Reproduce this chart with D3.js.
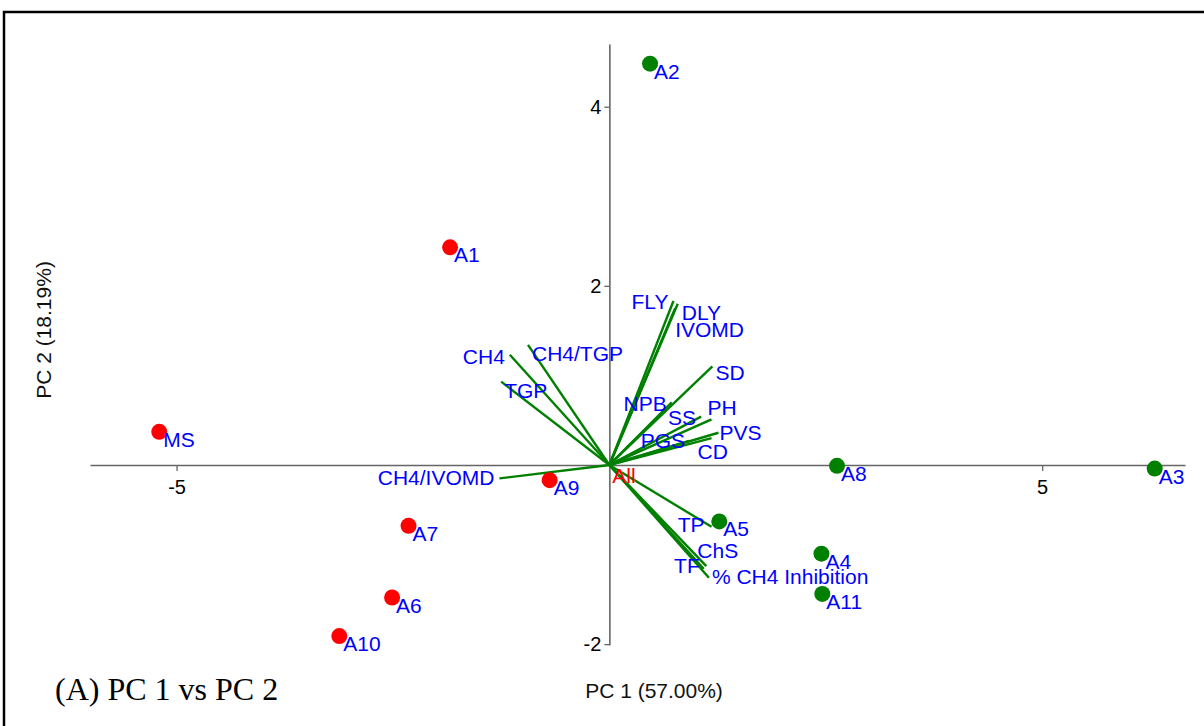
<!DOCTYPE html>
<html>
<head>
<meta charset="utf-8">
<script src="https://cdn.jsdelivr.net/npm/d3@7"></script>
<style>
  body { margin: 0; background: #fff; }
  svg { display: block; }
</style>
</head>
<body>
<div id="chart"></div>
<script>
// scores (PC1, PC2)
const sampleNames = ["A1", "MS", "A9", "A7", "A6", "A10", "A2", "A8", "A3", "A5", "A4", "A11"];
const pc1Scores = [-1.84, -5.20, -0.69, -2.32, -2.51, -3.12, 0.47, 2.63, 6.30, 1.27, 2.45, 2.46];
const pc2Scores = [2.43, 0.37, -0.17, -0.68, -1.48, -1.91, 4.48, -0.01, -0.04, -0.63, -0.99, -1.44];
const sampleGroup = ["red", "red", "red", "red", "red", "red", "green", "green", "green", "green", "green", "green"];

// loadings
const varNames = ["FLY", "DLY", "IVOMD", "SD", "NPB", "SS", "PH", "PVS", "CD", "PGS",
                  "CH4", "CH4/TGP", "TGP", "CH4/IVOMD", "TP", "ChS", "TF", "% CH4 Inhibition"];
const pc1Load = [0.74, 0.79, 0.76, 1.19, 0.72, 1.06, 1.18, 1.26, 1.18, 0.92,
                 -1.15, -0.94, -1.25, -1.27, 1.18, 1.12, 1.09, 1.15];
const pc2Load = [1.83, 1.80, 1.75, 1.10, 0.70, 0.54, 0.51, 0.36, 0.30, 0.27,
                 1.23, 1.34, 0.93, -0.15, -0.69, -1.13, -1.16, -1.26];

const xTicks = [-5, 5];
const yTicks = [-2, 2, 4];

// label placement around arrow tips (pixels): [dx, dy, anchor]
const varLabelNudge = {
  "FLY": [-5, 8, "end"], "DLY": [4, 16, "start"], "IVOMD": [0, 29, "start"],
  "SD": [3, 14, "start"], "NPB": [-5, 9, "end"], "SS": [-5, 8, "end"],
  "PH": [-4, -4, "start"], "PVS": [1, 7, "start"], "CD": [-14, 21, "start"],
  "PGS": [-4, 7, "end"], "CH4": [-5, 9, "end"], "CH4/TGP": [4, 16, "start"],
  "TGP": [3, 16, "start"], "CH4/IVOMD": [-5, 7, "end"], "TP": [-7, 5, "end"],
  "ChS": [-9, -8, "start"], "TF": [-4, 4, "end"], "% CH4 Inhibition": [3, 6, "start"]
};

const W = 1204, H = 726;
const font = "'Liberation Sans', Arial, sans-serif";
const colors = { red: "#ff0000", green: "#008000" };

const svg = d3.select("#chart").append("svg")
  .attr("width", W).attr("height", H);

// outer frame (runs off the right and bottom of the window)
svg.append("rect")
  .attr("x", 4).attr("y", 12)
  .attr("width", 1230).attr("height", 740)
  .attr("fill", "none").attr("stroke", "#000").attr("stroke-width", 2.5);

const x = d3.scaleLinear().domain([-6.0, 6.65]).range([90, 1185]);
const y = d3.scaleLinear().domain([-2.01, 4.70]).range([645, 44]);

const xAxis = svg.append("g")
  .attr("transform", `translate(0,${y(0)})`)
  .call(d3.axisBottom(x).tickValues(xTicks).tickSize(6).tickSizeOuter(0).tickFormat(d => String(d)));
const yAxis = svg.append("g")
  .attr("transform", `translate(${x(0)},0)`)
  .call(d3.axisLeft(y).tickValues(yTicks).tickSize(5).tickSizeOuter(0).tickFormat(d => String(d)));

[xAxis, yAxis].forEach(g => {
  g.select(".domain").attr("stroke", "#666").attr("stroke-width", 1.6);
  g.selectAll(".tick line").attr("stroke", "#666").attr("stroke-width", 1.3);
  g.selectAll(".tick text").attr("fill", "#000").style("font-family", font).style("font-size", "20px");
});
xAxis.selectAll(".tick text").attr("dy", "1.0em");
yAxis.selectAll(".tick text").attr("x", -8);

// axis titles
svg.append("text")
  .attr("x", 654).attr("y", 698)
  .attr("text-anchor", "middle")
  .style("font-family", font).style("font-size", "21px").attr("fill", "#111")
  .text("PC 1 (57.00%)");
svg.append("text")
  .attr("transform", "translate(51,330) rotate(-90)")
  .attr("text-anchor", "middle")
  .style("font-family", font).style("font-size", "21px").attr("fill", "#111")
  .text("PC 2 (18.19%)");

// loading vectors
svg.append("g").selectAll("line")
  .data(varNames)
  .join("line")
  .attr("x1", x(0)).attr("y1", y(0))
  .attr("x2", (d, i) => x(pc1Load[i]))
  .attr("y2", (d, i) => y(pc2Load[i]))
  .attr("stroke", "#008000").attr("stroke-width", 2.4);

svg.append("g").selectAll("text")
  .data(varNames)
  .join("text")
  .attr("x", (d, i) => x(pc1Load[i]) + varLabelNudge[d][0])
  .attr("y", (d, i) => y(pc2Load[i]) + varLabelNudge[d][1])
  .attr("text-anchor", d => varLabelNudge[d][2])
  .style("font-family", font).style("font-size", "21px")
  .attr("fill", "#0000ff")
  .text(d => d);

// origin label
svg.append("text")
  .attr("x", x(0) + 3).attr("y", y(0) + 18)
  .style("font-family", font).style("font-size", "21px")
  .attr("fill", "#ff0000")
  .text("All");

// sample points
svg.append("g").selectAll("circle")
  .data(sampleNames)
  .join("circle")
  .attr("cx", (d, i) => x(pc1Scores[i]))
  .attr("cy", (d, i) => y(pc2Scores[i]))
  .attr("r", 8)
  .attr("fill", (d, i) => colors[sampleGroup[i]]);

svg.append("g").selectAll("text")
  .data(sampleNames)
  .join("text")
  .attr("x", (d, i) => x(pc1Scores[i]) + 4)
  .attr("y", (d, i) => y(pc2Scores[i]) + 15)
  .style("font-family", font).style("font-size", "21px")
  .attr("fill", "#0000ff")
  .text(d => d);

// panel caption
svg.append("text")
  .attr("x", 55).attr("y", 700)
  .style("font-family", "'Liberation Serif', 'Times New Roman', serif")
  .style("font-size", "32px").attr("fill", "#000")
  .text("(A) PC 1 vs PC 2");
</script>
</body>
</html>
